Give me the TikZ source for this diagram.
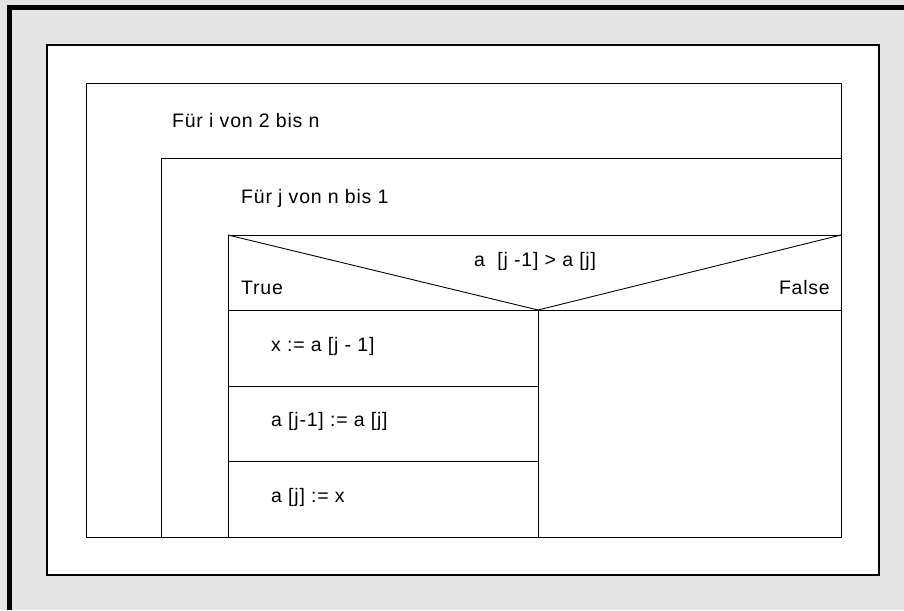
\documentclass[tikz,border=0pt]{standalone}
\usepackage{fontspec}
\setmainfont{Liberation Sans}[LetterSpace=4]
\definecolor{bggray}{RGB}{228,228,228}
\begin{document}
\begin{tikzpicture}[x=1pt,y=-1pt,
  ln/.style={line width=0.9pt,black},
  txt/.style={inner sep=0pt,font=\fontsize{19.5}{22}\selectfont},
  lt/.style={txt,anchor=base west},
  ct/.style={txt,anchor=base},
  rt/.style={txt,anchor=base east}]
\useasboundingbox (0,0) rectangle (904,610);
\fill[bggray] (0,0) rectangle (904,610);
\fill[black] (7,5) rectangle (904,10.5);
\fill[black] (7,5) rectangle (12.3,610);
\filldraw[fill=white,draw=black,line width=1.6pt] (47,45) rectangle (879,575);
% outer loop
\draw[ln] (86,83) rectangle (841,537);
% inner loop
\draw[ln] (161,537) -- (161,158) -- (841,158);
% decision
\draw[ln] (228,537) -- (228,235) -- (841,235);
\draw[ln] (228,235) -- (538,310) -- (841,235);
\draw[ln] (228,310) -- (841,310);
\draw[ln] (538,310) -- (538,537);
\draw[ln] (228,386) -- (538,386);
\draw[ln] (228,461) -- (538,461);
% texts
\node[lt] (fi) at (172,127) {Für i von 2 bis n};
\node[lt] (fj) at (241,203) {Für j von n bis 1};
\node[lt] (cond) at (474,266) {a\ \ [j -1] > a [j]};
\node[lt] (tr) at (241,294) {True};
\node[rt] (fa) at (830,294) {False};
\node[lt] (s1) at (271,351) {x := a [j - 1]};
\node[lt] (s2) at (271,426) {a [j-1] := a [j]};
\node[lt] (s3) at (271,502) {a [j] := x};
\end{tikzpicture}
\end{document}
